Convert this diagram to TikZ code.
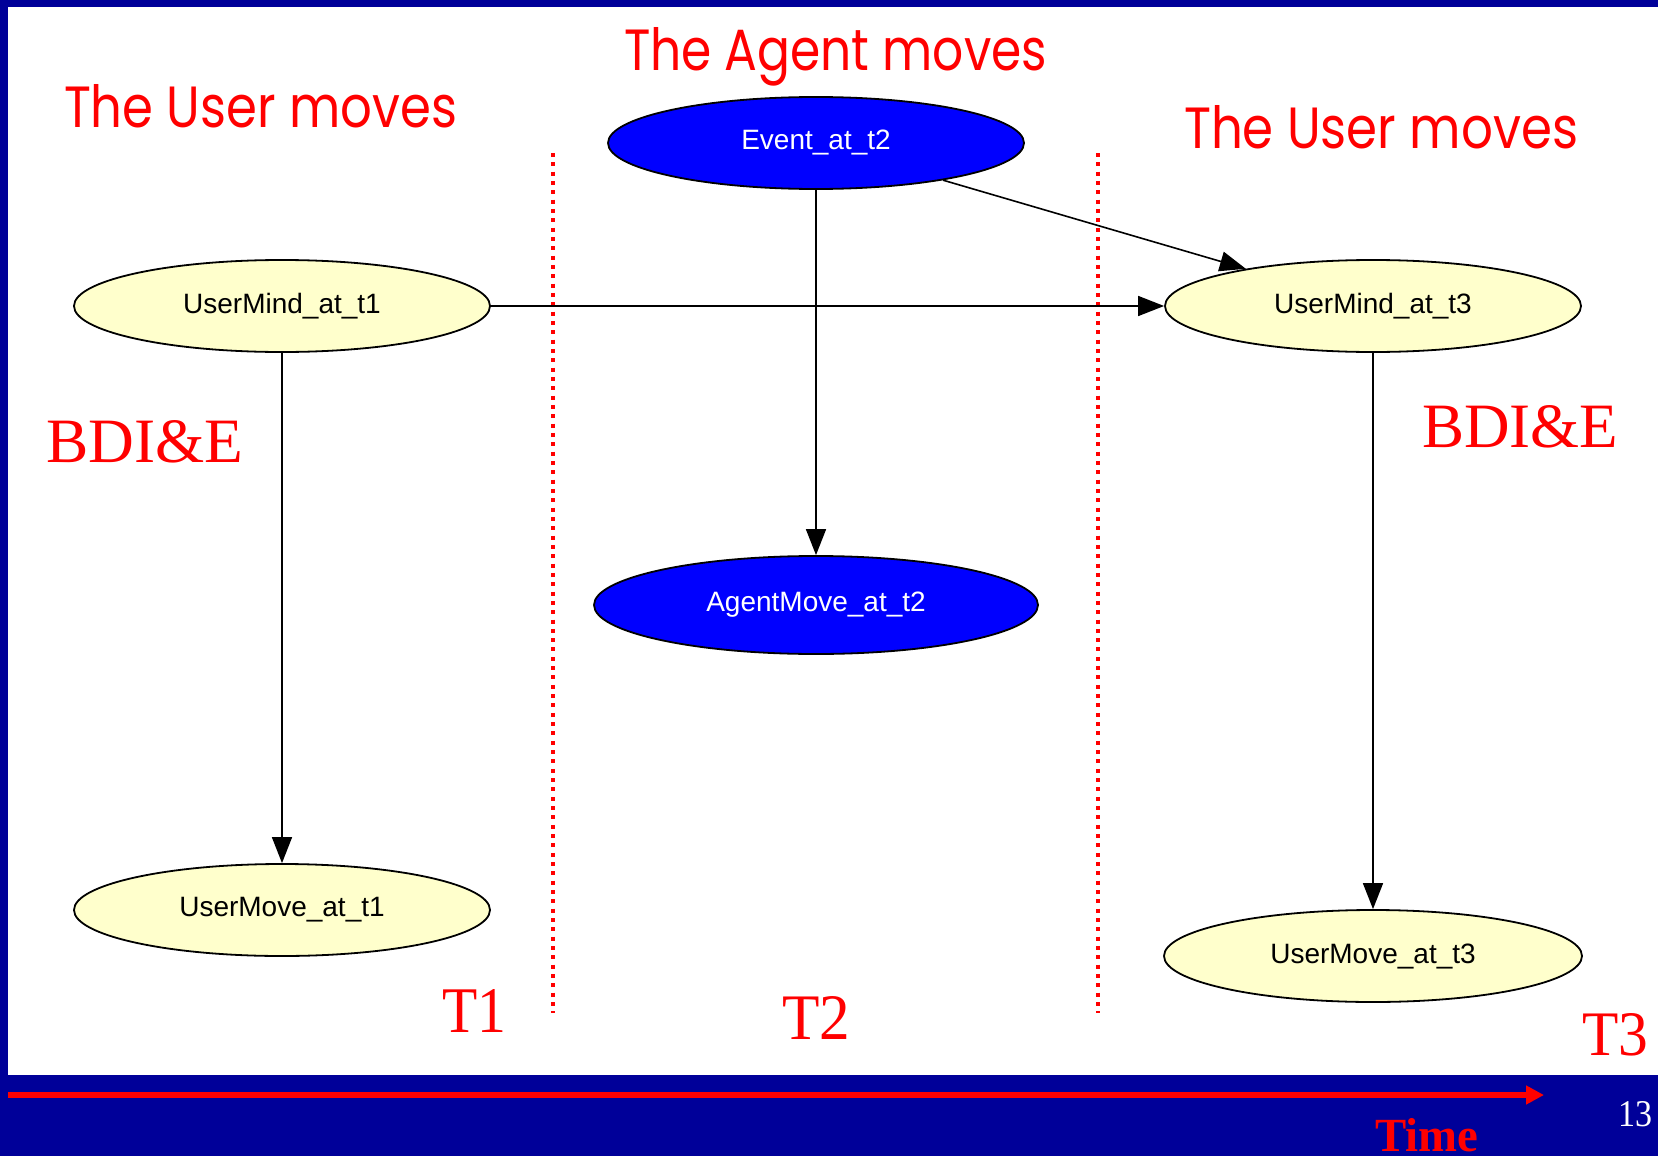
\documentclass[tikz,border=0pt]{standalone}
\usepackage{graphicx}
\usepackage{fontspec}
\setmainfont{Liberation Serif}
\newfontfamily\labelfont{Liberation Sans}
\newfontfamily\handfont{Poppins}
\usetikzlibrary{shapes.geometric,arrows.meta}

\definecolor{slideblue}{RGB}{0,0,153}
\definecolor{nodeyellow}{RGB}{255,255,204}
\definecolor{nodeblue}{RGB}{0,0,255}

% scale a piece of text to a given width and height (in pt)
\newcommand{\fitto}[3]{\resizebox{#1pt}{#2pt}{#3}}

\begin{document}
\begin{tikzpicture}[x=1pt,y=-1pt,
  usernode/.style={ellipse, draw=black, line width=1.8pt, fill=nodeyellow,
    minimum width=416pt, minimum height=92pt, inner sep=0pt,
    font=\labelfont\fontsize{28}{28}\selectfont, text=black},
  agentnode/.style={usernode, fill=nodeblue, text=white},
  link/.style={line width=1.6pt, -{Triangle[length=26pt,width=20pt]}},
  divider/.style={red, line width=4pt, dash pattern=on 4pt off 5.33pt},
  caption/.style={inner sep=0pt, outer sep=0pt, anchor=base west, text=red},
]
% page and slide frame
\useasboundingbox (0,0) rectangle (1658,1156);
\fill[white] (0,0) rectangle (1658,1156);
\fill[slideblue] (0,0) rectangle (1658,7);
\fill[slideblue] (0,0) rectangle (8,1156);
\fill[slideblue] (0,1075) rectangle (1658,1156);

% time axis
\coordinate (axisstart) at (8,1095);
\coordinate (axisend) at (1544,1095);
\draw[red, line width=6.5pt, -{Triangle[length=18pt,width=18pt]}] (axisstart) -- (axisend);

% dotted separators between the time slices
\coordinate (sepA top) at (553,153);
\coordinate (sepA bot) at (553,1013);
\coordinate (sepB top) at (1098,153);
\coordinate (sepB bot) at (1098,1013);
\draw[divider] (sepA top) -- (sepA bot);
\draw[divider] (sepB top) -- (sepB bot);

% network nodes
\node[usernode] (um1) at (282,306) {UserMind\_at\_t1};
\node[usernode] (uv1) at (282,910) {UserMove\_at\_t1};
\node[agentnode] (ev) at (816,143) {Event\_at\_t2};
\node[agentnode, minimum width=444pt, minimum height=98pt] (am) at (816,605) {AgentMove\_at\_t2};
\node[usernode] (um3) at (1373,306) {UserMind\_at\_t3};
\node[usernode, minimum width=418pt] (uv3) at (1373,956) {UserMove\_at\_t3};

% dependencies
\draw[link] (um1) -- (uv1);
\draw[link] (um1) -- (um3);
\draw[link] (ev) -- (am);
\draw[link] (ev) -- (um3);
\draw[link] (um3) -- (uv3);

% headings
\node[caption] (hdUser1) at (64,128) {\handfont\fitto{393}{43}{The User moves}};
\node[caption] (hdAgent) at (624,71) {\handfont\fitto{423}{43}{The Agent moves}};
\node[caption] (hdUser3) at (1184,148) {\handfont\fitto{394}{43}{The User moves}};

% state labels
\node[caption] (bdiL) at (46,462) {\fitto{197}{42}{BDI\&E}};
\node[caption] (bdiR) at (1422,447) {\fitto{196}{42}{BDI\&E}};

% time slice labels
\node[caption] (tOne) at (442,1032) {\fitto{64}{43}{T1}};
\node[caption] (tTwo) at (782,1039) {\fitto{68}{43}{T2}};
\node[caption] (tThree) at (1582,1055) {\fitto{66}{42}{T3}};

% footer
\node[caption] (timeLbl) at (1375,1151) {\bfseries\fitto{103}{33}{Time}};
\node[caption, text=white] (pageNo) at (1618,1126) {\fitto{34}{25}{13}};
\end{tikzpicture}
\end{document}
